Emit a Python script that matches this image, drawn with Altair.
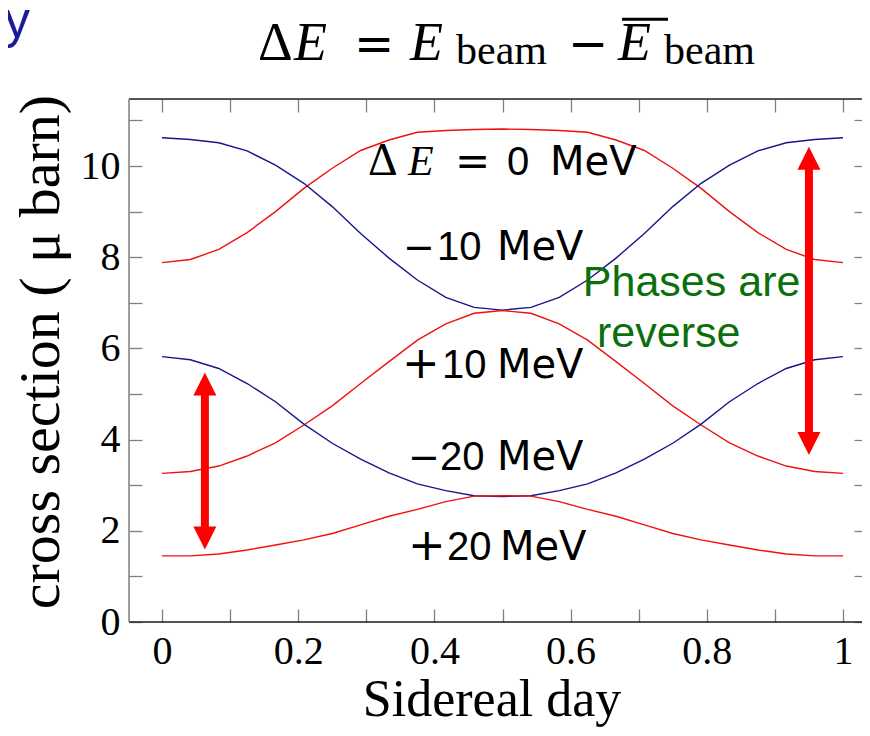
import altair as alt
import pandas as pd

# ---------------- data ----------------
phase = [k / 24 for k in range(25)]

dE_0 = [7.88, 7.95, 8.17, 8.54, 9.00, 9.51, 9.95, 10.34, 10.57, 10.74, 10.78, 10.80, 10.81,
        10.80, 10.78, 10.74, 10.57, 10.34, 9.95, 9.51, 9.00, 8.54, 8.17, 7.95, 7.88]
dE_m10 = [10.62, 10.58, 10.51, 10.33, 10.02, 9.62, 9.11, 8.52, 7.98, 7.50, 7.12, 6.90, 6.84,
          6.90, 7.12, 7.50, 7.98, 8.52, 9.11, 9.62, 10.02, 10.33, 10.51, 10.58, 10.62]
dE_p10 = [3.26, 3.30, 3.42, 3.64, 3.93, 4.32, 4.74, 5.23, 5.71, 6.18, 6.54, 6.77, 6.83,
          6.77, 6.54, 6.18, 5.71, 5.23, 4.74, 4.32, 3.93, 3.64, 3.42, 3.30, 3.26]
dE_m20 = [5.82, 5.75, 5.56, 5.23, 4.83, 4.34, 3.92, 3.57, 3.27, 3.03, 2.88, 2.77, 2.75,
          2.77, 2.88, 3.03, 3.27, 3.57, 3.92, 4.34, 4.83, 5.23, 5.56, 5.75, 5.82]
dE_p20 = [1.45, 1.45, 1.49, 1.58, 1.69, 1.80, 1.94, 2.13, 2.32, 2.47, 2.64, 2.76, 2.77,
          2.76, 2.64, 2.47, 2.32, 2.13, 1.94, 1.80, 1.69, 1.58, 1.49, 1.45, 1.45]

series_names = ["0", "-10", "+10", "-20", "+20"]
series_values = [dE_0, dE_m10, dE_p10, dE_m20, dE_p20]
series_colors = ["#f01010", "#16168a", "#f01010", "#16168a", "#f01010"]

x_ticks = [round(i * 0.1, 1) for i in range(11)]
y_ticks = list(range(12))

arrow_x = [0.063, 0.950]
arrow_top = [5.47, 10.42]
arrow_bottom = [1.59, 3.66]

# ---------------- frames ----------------
rows = []
for name, vals, col in zip(series_names, series_values, series_colors):
    for xv, yv in zip(phase, vals):
        rows.append({"series": name, "x": xv, "y": yv, "color": col})
df_lines = pd.DataFrame(rows)

df_arrows = pd.DataFrame({"x": arrow_x, "top": arrow_top, "bottom": arrow_bottom})
df_arrows["s1"] = df_arrows["top"] - 0.45
df_arrows["s2"] = df_arrows["bottom"] + 0.45

XMIN, XMAX = -33 / 681, 700 / 681
YMIN, YMAX = 0, 523 / 45.6
xs = alt.Scale(domain=[XMIN, XMAX], nice=False, zero=False)
ys = alt.Scale(domain=[YMIN, YMAX], nice=False, zero=False)

TICK = "#808080"
x_bottom = alt.Axis(orient="bottom", values=x_ticks, offset=-13, tickSize=13, tickColor=TICK,
                    tickWidth=1.3, domain=False, grid=False, format="~g",
                    labelExpr="round(datum.value*10) % 2 == 0 ? datum.label : ''",
                    labelFont="Liberation Serif", labelFontSize=40, labelColor="black",
                    labelPadding=9, labelFlush=False, labelOverlap=False, title=None)
y_left = alt.Axis(orient="left", values=y_ticks, offset=-13, tickSize=13, tickColor=TICK,
                  tickWidth=1.3, domain=False, grid=False,
                  labelExpr="datum.value % 2 == 0 ? datum.label : ''",
                  labelFont="Liberation Serif", labelFontSize=40, labelColor="black",
                  labelPadding=9, labelFlush=False, labelOverlap=False, title=None)
x_top = alt.Axis(orient="top", values=x_ticks, offset=-13, tickSize=13, tickColor=TICK,
                 tickWidth=1.3, domain=False, grid=False, labels=False, title=None)
y_right = alt.Axis(orient="right", values=y_ticks, offset=-8, tickSize=8, tickColor=TICK,
                   tickWidth=1.3, domain=False, grid=False, labels=False, title=None)

lines = alt.Chart(df_lines).mark_line(strokeWidth=1.4).encode(
    x=alt.X("x:Q", scale=xs, axis=x_bottom),
    y=alt.Y("y:Q", scale=ys, axis=y_left),
    detail="series:N",
    color=alt.Color("color:N", scale=None),
)

shafts = alt.Chart(df_arrows).mark_rule(strokeWidth=8, color="#ff0000").encode(
    x=alt.X("x:Q", scale=xs, axis=x_top),
    y=alt.Y("s1:Q", scale=ys, axis=y_right),
    y2="s2:Q",
)
heads_up = alt.Chart(df_arrows).mark_point(
    shape="M0,0L1,2L-1,2Z", size=529, filled=True, opacity=1, color="#ff0000", strokeWidth=0
).encode(x=alt.X("x:Q", scale=xs, axis=None), y=alt.Y("top:Q", scale=ys, axis=None))
heads_dn = alt.Chart(df_arrows).mark_point(
    shape="M0,0L1,-2L-1,-2Z", size=529, filled=True, opacity=1, color="#ff0000", strokeWidth=0
).encode(x=alt.X("x:Q", scale=xs, axis=None), y=alt.Y("bottom:Q", scale=ys, axis=None))

# plot frame (left, top, bottom; the right edge lies beyond the picture)
frame_h = alt.Chart(pd.DataFrame({"x": [XMIN, XMIN], "x2": [XMAX, XMAX], "y": [YMIN, YMAX]})).mark_rule(
    strokeWidth=1.4, color="#222222"
).encode(x=alt.X("x:Q", scale=xs, axis=None), x2="x2:Q", y=alt.Y("y:Q", scale=ys, axis=None))
frame_v = alt.Chart(pd.DataFrame({"x": [XMIN], "y": [YMIN], "y2": [YMAX]})).mark_rule(
    strokeWidth=1.4, color="#7a7a7a"
).encode(x=alt.X("x:Q", scale=xs, axis=None), y=alt.Y("y:Q", scale=ys, axis=None), y2="y2:Q")

SERIF = "Liberation Serif"
SANS = "Liberation Sans"
DJ = "DejaVu Sans"
# (text, x, y, font, size, style, color, align)
annotations = [
    # title
    ("Δ", 0.1410, 12.325, SERIF, 54, "normal", "black", "left"),
    ("E", 0.1938, 12.325, SERIF, 54, "italic", "black", "left"),
    ("=", 0.2819, 12.325, DJ, 48, "normal", "black", "left"),
    ("E", 0.3642, 12.325, SERIF, 54, "italic", "black", "left"),
    ("beam", 0.4317, 12.23, SERIF, 42, "normal", "black", "left"),
    ("−", 0.5962, 12.325, DJ, 48, "normal", "black", "left"),
    ("E", 0.6696, 12.325, SERIF, 54, "italic", "black", "left"),
    ("beam", 0.7372, 12.23, SERIF, 42, "normal", "black", "left"),
    # curve labels
    ("Δ", 0.3025, 9.803, SERIF, 46, "normal", "black", "left"),
    ("E", 0.3612, 9.803, SERIF, 42, "italic", "black", "left"),
    ("=", 0.4302, 9.803, DJ, 42, "normal", "black", "left"),
    ("0", 0.5066, 9.803, SANS, 40, "normal", "black", "left"),
    ("MeV", 0.5698, 9.803, DJ, 40, "normal", "black", "left"),
    ("−", 0.3539, 7.939, DJ, 38, "normal", "black", "left"),
    ("10", 0.4038, 7.939, SANS, 40, "normal", "black", "left"),
    ("MeV", 0.4919, 7.939, DJ, 40, "normal", "black", "left"),
    ("+", 0.3524, 5.351, DJ, 45, "normal", "black", "left"),
    ("10", 0.4112, 5.351, SANS, 40, "normal", "black", "left"),
    ("MeV", 0.4919, 5.351, DJ, 40, "normal", "black", "left"),
    ("−", 0.3612, 3.333, DJ, 38, "normal", "black", "left"),
    ("20", 0.4082, 3.333, SANS, 40, "normal", "black", "left"),
    ("MeV", 0.4919, 3.333, DJ, 40, "normal", "black", "left"),
    ("+", 0.3612, 1.360, DJ, 45, "normal", "black", "left"),
    ("20", 0.4185, 1.360, SANS, 40, "normal", "black", "left"),
    ("MeV", 0.4963, 1.360, DJ, 40, "normal", "black", "left"),
    # green note
    ("Phases are", 0.618, 7.149, SANS, 43, "normal", "#0b700b", "left"),
    ("reverse", 0.6388, 6.031, SANS, 43, "normal", "#0b700b", "left"),
    # x-axis title
    ("Sidereal day", 0.4846, -2.06, SERIF, 52, "normal", "black", "center"),
    # stray letter at the top-left corner
    ("y", -0.2320, 12.83, SANS, 52, "normal", "#1c1c96", "left"),
]

layers = [frame_h, frame_v, lines, shafts, heads_up, heads_dn]
for txt, xv, yv, font, size, style, col, align in annotations:
    layers.append(
        alt.Chart(pd.DataFrame({"x": [xv], "y": [yv], "t": [txt]})).mark_text(
            font=font, fontSize=size, fontStyle=style, color=col, align=align,
            baseline="alphabetic",
        ).encode(x=alt.X("x:Q", scale=xs, axis=None), y=alt.Y("y:Q", scale=ys, axis=None),
                 text="t:N")
    )

# rotated y-axis title
layers.append(
    alt.Chart(pd.DataFrame({"x": [-0.1762], "y": [5.92], "t": ["cross section ( μ barn)"]}))
    .mark_text(font=SERIF, fontSize=58, color="black", align="center", baseline="middle", angle=270)
    .encode(x=alt.X("x:Q", scale=xs, axis=None), y=alt.Y("y:Q", scale=ys, axis=None), text="t:N")
)
# overbar of the mean beam energy in the title
layers.append(
    alt.Chart(pd.DataFrame({"x": [0.6755], "x2": [0.7430], "y": [13.22]}))
    .mark_rule(strokeWidth=3, color="black")
    .encode(x=alt.X("x:Q", scale=xs, axis=None), x2="x2:Q", y=alt.Y("y:Q", scale=ys, axis=None))
)

chart = alt.layer(*layers).resolve_axis(x="independent", y="independent").properties(
    width=733, height=523,
    padding={"left": 121, "top": 91, "right": 0, "bottom": 106},
    autosize=alt.AutoSizeParams(type="none"),
).configure_view(stroke=None).configure(background="white")

chart.save("out.html", embed_options={"renderer": "svg", "actions": False})
